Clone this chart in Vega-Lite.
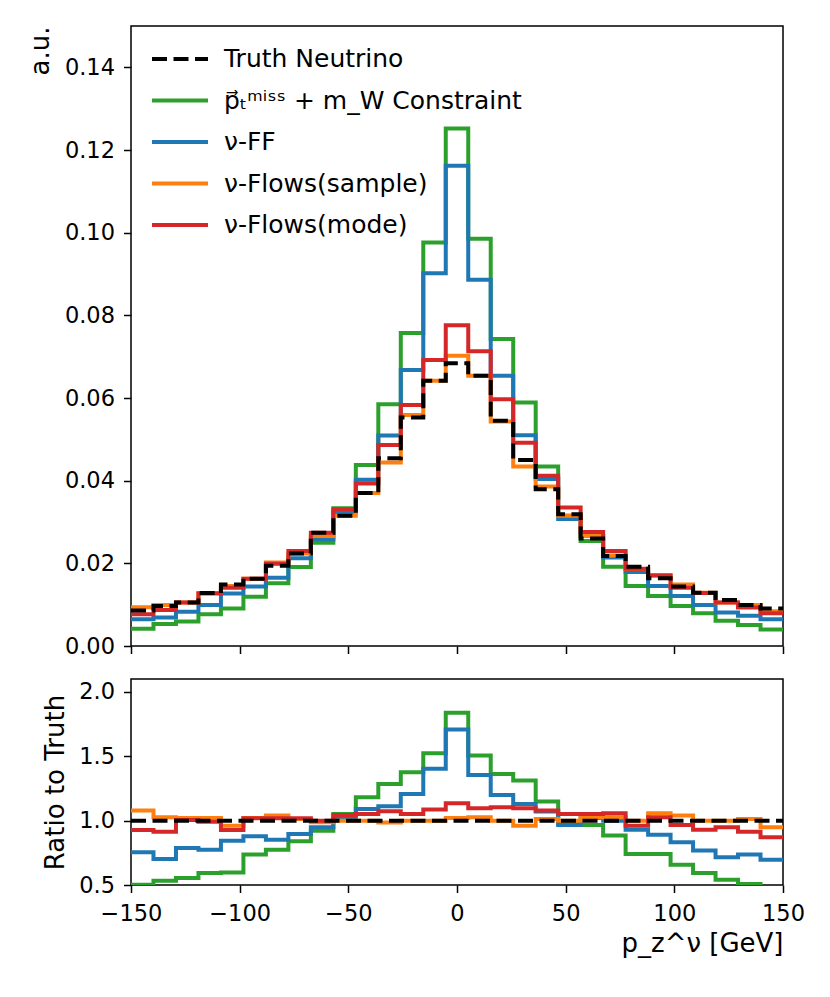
{
  "$schema": "https://vega.github.io/schema/vega-lite/v6.json",
  "padding": {"left": 26, "top": 25, "right": 5, "bottom": 5},
  "background": "white",
  "config": {
    "font": "DejaVu Sans",
    "view": {"stroke": "black", "strokeWidth": 1.5},
    "axis": {
      "grid": false,
      "domain": false,
      "ticks": true,
      "tickColor": "black",
      "tickSize": 7.5,
      "tickWidth": 1.5,
      "labelColor": "black",
      "labelFontSize": 22.5,
      "labelPadding": 9,
      "labelFlush": false,
      "titleColor": "black",
      "titleFontSize": 26,
      "titleFontWeight": "normal"
    }
  },
  "datasets": {
    "hist": [
      {"s": "p⃗ₜᵐⁱˢˢ + m_W Constraint", "lo": -150, "v": 0.0042},
      {"s": "p⃗ₜᵐⁱˢˢ + m_W Constraint", "lo": -139.655, "v": 0.0053},
      {"s": "p⃗ₜᵐⁱˢˢ + m_W Constraint", "lo": -129.31, "v": 0.0059},
      {"s": "p⃗ₜᵐⁱˢˢ + m_W Constraint", "lo": -118.966, "v": 0.0077},
      {"s": "p⃗ₜᵐⁱˢˢ + m_W Constraint", "lo": -108.621, "v": 0.0091},
      {"s": "p⃗ₜᵐⁱˢˢ + m_W Constraint", "lo": -98.276, "v": 0.0119},
      {"s": "p⃗ₜᵐⁱˢˢ + m_W Constraint", "lo": -87.931, "v": 0.0152},
      {"s": "p⃗ₜᵐⁱˢˢ + m_W Constraint", "lo": -77.586, "v": 0.0191},
      {"s": "p⃗ₜᵐⁱˢˢ + m_W Constraint", "lo": -67.241, "v": 0.025},
      {"s": "p⃗ₜᵐⁱˢˢ + m_W Constraint", "lo": -56.897, "v": 0.0333},
      {"s": "p⃗ₜᵐⁱˢˢ + m_W Constraint", "lo": -46.552, "v": 0.0438},
      {"s": "p⃗ₜᵐⁱˢˢ + m_W Constraint", "lo": -36.207, "v": 0.0585},
      {"s": "p⃗ₜᵐⁱˢˢ + m_W Constraint", "lo": -25.862, "v": 0.0757},
      {"s": "p⃗ₜᵐⁱˢˢ + m_W Constraint", "lo": -15.517, "v": 0.0976},
      {"s": "p⃗ₜᵐⁱˢˢ + m_W Constraint", "lo": -5.172, "v": 0.1252},
      {"s": "p⃗ₜᵐⁱˢˢ + m_W Constraint", "lo": 5.172, "v": 0.0985},
      {"s": "p⃗ₜᵐⁱˢˢ + m_W Constraint", "lo": 15.517, "v": 0.0743},
      {"s": "p⃗ₜᵐⁱˢˢ + m_W Constraint", "lo": 25.862, "v": 0.0589},
      {"s": "p⃗ₜᵐⁱˢˢ + m_W Constraint", "lo": 36.207, "v": 0.0434},
      {"s": "p⃗ₜᵐⁱˢˢ + m_W Constraint", "lo": 46.552, "v": 0.0315},
      {"s": "p⃗ₜᵐⁱˢˢ + m_W Constraint", "lo": 56.897, "v": 0.0254},
      {"s": "p⃗ₜᵐⁱˢˢ + m_W Constraint", "lo": 67.241, "v": 0.0192},
      {"s": "p⃗ₜᵐⁱˢˢ + m_W Constraint", "lo": 77.586, "v": 0.0145},
      {"s": "p⃗ₜᵐⁱˢˢ + m_W Constraint", "lo": 87.931, "v": 0.0121},
      {"s": "p⃗ₜᵐⁱˢˢ + m_W Constraint", "lo": 98.276, "v": 0.0097},
      {"s": "p⃗ₜᵐⁱˢˢ + m_W Constraint", "lo": 108.621, "v": 0.0079},
      {"s": "p⃗ₜᵐⁱˢˢ + m_W Constraint", "lo": 118.966, "v": 0.0061},
      {"s": "p⃗ₜᵐⁱˢˢ + m_W Constraint", "lo": 129.31, "v": 0.0051},
      {"s": "p⃗ₜᵐⁱˢˢ + m_W Constraint", "lo": 139.655, "v": 0.004},
      {"s": "p⃗ₜᵐⁱˢˢ + m_W Constraint", "lo": 150, "v": 0.004},

      {"s": "ν-FF", "lo": -150, "v": 0.0065},
      {"s": "ν-FF", "lo": -139.655, "v": 0.0069},
      {"s": "ν-FF", "lo": -129.31, "v": 0.0083},
      {"s": "ν-FF", "lo": -118.966, "v": 0.0099},
      {"s": "ν-FF", "lo": -108.621, "v": 0.0127},
      {"s": "ν-FF", "lo": -98.276, "v": 0.0144},
      {"s": "ν-FF", "lo": -87.931, "v": 0.0165},
      {"s": "ν-FF", "lo": -77.586, "v": 0.0212},
      {"s": "ν-FF", "lo": -67.241, "v": 0.0258},
      {"s": "ν-FF", "lo": -56.897, "v": 0.0323},
      {"s": "ν-FF", "lo": -46.552, "v": 0.0402},
      {"s": "ν-FF", "lo": -36.207, "v": 0.0509},
      {"s": "ν-FF", "lo": -25.862, "v": 0.0668},
      {"s": "ν-FF", "lo": -15.517, "v": 0.0902},
      {"s": "ν-FF", "lo": -5.172, "v": 0.1162},
      {"s": "ν-FF", "lo": 5.172, "v": 0.0886},
      {"s": "ν-FF", "lo": 15.517, "v": 0.0654},
      {"s": "ν-FF", "lo": 25.862, "v": 0.051},
      {"s": "ν-FF", "lo": 36.207, "v": 0.0404},
      {"s": "ν-FF", "lo": 46.552, "v": 0.0307},
      {"s": "ν-FF", "lo": 56.897, "v": 0.0266},
      {"s": "ν-FF", "lo": 67.241, "v": 0.0214},
      {"s": "ν-FF", "lo": 77.586, "v": 0.0179},
      {"s": "ν-FF", "lo": 87.931, "v": 0.0145},
      {"s": "ν-FF", "lo": 98.276, "v": 0.0121},
      {"s": "ν-FF", "lo": 108.621, "v": 0.0099},
      {"s": "ν-FF", "lo": 118.966, "v": 0.0081},
      {"s": "ν-FF", "lo": 129.31, "v": 0.0073},
      {"s": "ν-FF", "lo": 139.655, "v": 0.0065},
      {"s": "ν-FF", "lo": 150, "v": 0.0065},

      {"s": "ν-Flows(sample)", "lo": -150, "v": 0.0094},
      {"s": "ν-Flows(sample)", "lo": -139.655, "v": 0.0099},
      {"s": "ν-Flows(sample)", "lo": -129.31, "v": 0.0105},
      {"s": "ν-Flows(sample)", "lo": -118.966, "v": 0.0128},
      {"s": "ν-Flows(sample)", "lo": -108.621, "v": 0.0145},
      {"s": "ν-Flows(sample)", "lo": -98.276, "v": 0.0163},
      {"s": "ν-Flows(sample)", "lo": -87.931, "v": 0.0202},
      {"s": "ν-Flows(sample)", "lo": -77.586, "v": 0.0224},
      {"s": "ν-Flows(sample)", "lo": -67.241, "v": 0.0266},
      {"s": "ν-Flows(sample)", "lo": -56.897, "v": 0.0315},
      {"s": "ν-Flows(sample)", "lo": -46.552, "v": 0.037},
      {"s": "ν-Flows(sample)", "lo": -36.207, "v": 0.0444},
      {"s": "ν-Flows(sample)", "lo": -25.862, "v": 0.0559},
      {"s": "ν-Flows(sample)", "lo": -15.517, "v": 0.0642},
      {"s": "ν-Flows(sample)", "lo": -5.172, "v": 0.0702},
      {"s": "ν-Flows(sample)", "lo": 5.172, "v": 0.0654},
      {"s": "ν-Flows(sample)", "lo": 15.517, "v": 0.0543},
      {"s": "ν-Flows(sample)", "lo": 25.862, "v": 0.0434},
      {"s": "ν-Flows(sample)", "lo": 36.207, "v": 0.0386},
      {"s": "ν-Flows(sample)", "lo": 46.552, "v": 0.0315},
      {"s": "ν-Flows(sample)", "lo": 56.897, "v": 0.0266},
      {"s": "ν-Flows(sample)", "lo": 67.241, "v": 0.0219},
      {"s": "ν-Flows(sample)", "lo": 77.586, "v": 0.0186},
      {"s": "ν-Flows(sample)", "lo": 87.931, "v": 0.017},
      {"s": "ν-Flows(sample)", "lo": 98.276, "v": 0.0149},
      {"s": "ν-Flows(sample)", "lo": 108.621, "v": 0.0129},
      {"s": "ν-Flows(sample)", "lo": 118.966, "v": 0.0105},
      {"s": "ν-Flows(sample)", "lo": 129.31, "v": 0.0099},
      {"s": "ν-Flows(sample)", "lo": 139.655, "v": 0.0084},
      {"s": "ν-Flows(sample)", "lo": 150, "v": 0.0084},

      {"s": "ν-Flows(mode)", "lo": -150, "v": 0.0077},
      {"s": "ν-Flows(mode)", "lo": -139.655, "v": 0.0087},
      {"s": "ν-Flows(mode)", "lo": -129.31, "v": 0.0105},
      {"s": "ν-Flows(mode)", "lo": -118.966, "v": 0.0127},
      {"s": "ν-Flows(mode)", "lo": -108.621, "v": 0.0141},
      {"s": "ν-Flows(mode)", "lo": -98.276, "v": 0.0163},
      {"s": "ν-Flows(mode)", "lo": -87.931, "v": 0.0199},
      {"s": "ν-Flows(mode)", "lo": -77.586, "v": 0.023},
      {"s": "ν-Flows(mode)", "lo": -67.241, "v": 0.0274},
      {"s": "ν-Flows(mode)", "lo": -56.897, "v": 0.0331},
      {"s": "ν-Flows(mode)", "lo": -46.552, "v": 0.0393},
      {"s": "ν-Flows(mode)", "lo": -36.207, "v": 0.0486},
      {"s": "ν-Flows(mode)", "lo": -25.862, "v": 0.0583},
      {"s": "ν-Flows(mode)", "lo": -15.517, "v": 0.0692},
      {"s": "ν-Flows(mode)", "lo": -5.172, "v": 0.0776},
      {"s": "ν-Flows(mode)", "lo": 5.172, "v": 0.0713},
      {"s": "ν-Flows(mode)", "lo": 15.517, "v": 0.0597},
      {"s": "ν-Flows(mode)", "lo": 25.862, "v": 0.0492},
      {"s": "ν-Flows(mode)", "lo": 36.207, "v": 0.0412},
      {"s": "ν-Flows(mode)", "lo": 46.552, "v": 0.0335},
      {"s": "ν-Flows(mode)", "lo": 56.897, "v": 0.0276},
      {"s": "ν-Flows(mode)", "lo": 67.241, "v": 0.023},
      {"s": "ν-Flows(mode)", "lo": 77.586, "v": 0.0187},
      {"s": "ν-Flows(mode)", "lo": 87.931, "v": 0.0171},
      {"s": "ν-Flows(mode)", "lo": 98.276, "v": 0.0141},
      {"s": "ν-Flows(mode)", "lo": 108.621, "v": 0.0128},
      {"s": "ν-Flows(mode)", "lo": 118.966, "v": 0.0105},
      {"s": "ν-Flows(mode)", "lo": 129.31, "v": 0.0093},
      {"s": "ν-Flows(mode)", "lo": 139.655, "v": 0.0079},
      {"s": "ν-Flows(mode)", "lo": 150, "v": 0.0079},

      {"s": "Truth Neutrino", "lo": -150, "v": 0.0086},
      {"s": "Truth Neutrino", "lo": -139.655, "v": 0.0097},
      {"s": "Truth Neutrino", "lo": -129.31, "v": 0.0105},
      {"s": "Truth Neutrino", "lo": -118.966, "v": 0.0128},
      {"s": "Truth Neutrino", "lo": -108.621, "v": 0.0149},
      {"s": "Truth Neutrino", "lo": -98.276, "v": 0.0163},
      {"s": "Truth Neutrino", "lo": -87.931, "v": 0.0194},
      {"s": "Truth Neutrino", "lo": -77.586, "v": 0.0224},
      {"s": "Truth Neutrino", "lo": -67.241, "v": 0.0274},
      {"s": "Truth Neutrino", "lo": -56.897, "v": 0.0315},
      {"s": "Truth Neutrino", "lo": -46.552, "v": 0.037},
      {"s": "Truth Neutrino", "lo": -36.207, "v": 0.0454},
      {"s": "Truth Neutrino", "lo": -25.862, "v": 0.0553},
      {"s": "Truth Neutrino", "lo": -15.517, "v": 0.0642},
      {"s": "Truth Neutrino", "lo": -5.172, "v": 0.0684},
      {"s": "Truth Neutrino", "lo": 5.172, "v": 0.0654},
      {"s": "Truth Neutrino", "lo": 15.517, "v": 0.0545},
      {"s": "Truth Neutrino", "lo": 25.862, "v": 0.045},
      {"s": "Truth Neutrino", "lo": 36.207, "v": 0.0379},
      {"s": "Truth Neutrino", "lo": 46.552, "v": 0.0319},
      {"s": "Truth Neutrino", "lo": 56.897, "v": 0.026},
      {"s": "Truth Neutrino", "lo": 67.241, "v": 0.0218},
      {"s": "Truth Neutrino", "lo": 77.586, "v": 0.0192},
      {"s": "Truth Neutrino", "lo": 87.931, "v": 0.0164},
      {"s": "Truth Neutrino", "lo": 98.276, "v": 0.0144},
      {"s": "Truth Neutrino", "lo": 108.621, "v": 0.0129},
      {"s": "Truth Neutrino", "lo": 118.966, "v": 0.0111},
      {"s": "Truth Neutrino", "lo": 129.31, "v": 0.0099},
      {"s": "Truth Neutrino", "lo": 139.655, "v": 0.0091},
      {"s": "Truth Neutrino", "lo": 150, "v": 0.0091}
    ],
    "ratio": [
      {"s": "p⃗ₜᵐⁱˢˢ + m_W Constraint", "lo": -150, "r": 0.502},
      {"s": "p⃗ₜᵐⁱˢˢ + m_W Constraint", "lo": -139.655, "r": 0.533},
      {"s": "p⃗ₜᵐⁱˢˢ + m_W Constraint", "lo": -129.31, "r": 0.554},
      {"s": "p⃗ₜᵐⁱˢˢ + m_W Constraint", "lo": -118.966, "r": 0.593},
      {"s": "p⃗ₜᵐⁱˢˢ + m_W Constraint", "lo": -108.621, "r": 0.598},
      {"s": "p⃗ₜᵐⁱˢˢ + m_W Constraint", "lo": -98.276, "r": 0.736},
      {"s": "p⃗ₜᵐⁱˢˢ + m_W Constraint", "lo": -87.931, "r": 0.774},
      {"s": "p⃗ₜᵐⁱˢˢ + m_W Constraint", "lo": -77.586, "r": 0.839},
      {"s": "p⃗ₜᵐⁱˢˢ + m_W Constraint", "lo": -67.241, "r": 0.922},
      {"s": "p⃗ₜᵐⁱˢˢ + m_W Constraint", "lo": -56.897, "r": 1.052},
      {"s": "p⃗ₜᵐⁱˢˢ + m_W Constraint", "lo": -46.552, "r": 1.181},
      {"s": "p⃗ₜᵐⁱˢˢ + m_W Constraint", "lo": -36.207, "r": 1.285},
      {"s": "p⃗ₜᵐⁱˢˢ + m_W Constraint", "lo": -25.862, "r": 1.376},
      {"s": "p⃗ₜᵐⁱˢˢ + m_W Constraint", "lo": -15.517, "r": 1.523},
      {"s": "p⃗ₜᵐⁱˢˢ + m_W Constraint", "lo": -5.172, "r": 1.837},
      {"s": "p⃗ₜᵐⁱˢˢ + m_W Constraint", "lo": 5.172, "r": 1.505},
      {"s": "p⃗ₜᵐⁱˢˢ + m_W Constraint", "lo": 15.517, "r": 1.363},
      {"s": "p⃗ₜᵐⁱˢˢ + m_W Constraint", "lo": 25.862, "r": 1.311},
      {"s": "p⃗ₜᵐⁱˢˢ + m_W Constraint", "lo": 36.207, "r": 1.148},
      {"s": "p⃗ₜᵐⁱˢˢ + m_W Constraint", "lo": 46.552, "r": 0.975},
      {"s": "p⃗ₜᵐⁱˢˢ + m_W Constraint", "lo": 56.897, "r": 0.966},
      {"s": "p⃗ₜᵐⁱˢˢ + m_W Constraint", "lo": 67.241, "r": 0.885},
      {"s": "p⃗ₜᵐⁱˢˢ + m_W Constraint", "lo": 77.586, "r": 0.741},
      {"s": "p⃗ₜᵐⁱˢˢ + m_W Constraint", "lo": 87.931, "r": 0.741},
      {"s": "p⃗ₜᵐⁱˢˢ + m_W Constraint", "lo": 98.276, "r": 0.658},
      {"s": "p⃗ₜᵐⁱˢˢ + m_W Constraint", "lo": 108.621, "r": 0.593},
      {"s": "p⃗ₜᵐⁱˢˢ + m_W Constraint", "lo": 118.966, "r": 0.54},
      {"s": "p⃗ₜᵐⁱˢˢ + m_W Constraint", "lo": 129.31, "r": 0.507},
      {"s": "p⃗ₜᵐⁱˢˢ + m_W Constraint", "lo": 139.655, "r": 0.45},
      {"s": "p⃗ₜᵐⁱˢˢ + m_W Constraint", "lo": 150, "r": 0.45},

      {"s": "ν-FF", "lo": -150, "r": 0.754},
      {"s": "ν-FF", "lo": -139.655, "r": 0.702},
      {"s": "ν-FF", "lo": -129.31, "r": 0.788},
      {"s": "ν-FF", "lo": -118.966, "r": 0.774},
      {"s": "ν-FF", "lo": -108.621, "r": 0.844},
      {"s": "ν-FF", "lo": -98.276, "r": 0.878},
      {"s": "ν-FF", "lo": -87.931, "r": 0.852},
      {"s": "ν-FF", "lo": -77.586, "r": 0.896},
      {"s": "ν-FF", "lo": -67.241, "r": 0.948},
      {"s": "ν-FF", "lo": -56.897, "r": 1.013},
      {"s": "ν-FF", "lo": -46.552, "r": 1.091},
      {"s": "ν-FF", "lo": -36.207, "r": 1.111},
      {"s": "ν-FF", "lo": -25.862, "r": 1.207},
      {"s": "ν-FF", "lo": -15.517, "r": 1.402},
      {"s": "ν-FF", "lo": -5.172, "r": 1.708},
      {"s": "ν-FF", "lo": 5.172, "r": 1.355},
      {"s": "ν-FF", "lo": 15.517, "r": 1.2},
      {"s": "ν-FF", "lo": 25.862, "r": 1.13},
      {"s": "ν-FF", "lo": 36.207, "r": 1.07},
      {"s": "ν-FF", "lo": 46.552, "r": 0.966},
      {"s": "ν-FF", "lo": 56.897, "r": 1.02},
      {"s": "ν-FF", "lo": 67.241, "r": 1.0},
      {"s": "ν-FF", "lo": 77.586, "r": 0.93},
      {"s": "ν-FF", "lo": 87.931, "r": 0.891},
      {"s": "ν-FF", "lo": 98.276, "r": 0.832},
      {"s": "ν-FF", "lo": 108.621, "r": 0.767},
      {"s": "ν-FF", "lo": 118.966, "r": 0.715},
      {"s": "ν-FF", "lo": 129.31, "r": 0.736},
      {"s": "ν-FF", "lo": 139.655, "r": 0.697},
      {"s": "ν-FF", "lo": 150, "r": 0.697},

      {"s": "ν-Flows(sample)", "lo": -150, "r": 1.078},
      {"s": "ν-Flows(sample)", "lo": -139.655, "r": 1.026},
      {"s": "ν-Flows(sample)", "lo": -129.31, "r": 1.02},
      {"s": "ν-Flows(sample)", "lo": -118.966, "r": 1.02},
      {"s": "ν-Flows(sample)", "lo": -108.621, "r": 0.961},
      {"s": "ν-Flows(sample)", "lo": -98.276, "r": 1.02},
      {"s": "ν-Flows(sample)", "lo": -87.931, "r": 1.039},
      {"s": "ν-Flows(sample)", "lo": -77.586, "r": 1.013},
      {"s": "ν-Flows(sample)", "lo": -67.241, "r": 0.987},
      {"s": "ν-Flows(sample)", "lo": -56.897, "r": 1.0},
      {"s": "ν-Flows(sample)", "lo": -46.552, "r": 1.0},
      {"s": "ν-Flows(sample)", "lo": -36.207, "r": 0.985},
      {"s": "ν-Flows(sample)", "lo": -25.862, "r": 1.0},
      {"s": "ν-Flows(sample)", "lo": -15.517, "r": 1.0},
      {"s": "ν-Flows(sample)", "lo": -5.172, "r": 1.02},
      {"s": "ν-Flows(sample)", "lo": 5.172, "r": 1.026},
      {"s": "ν-Flows(sample)", "lo": 15.517, "r": 1.0},
      {"s": "ν-Flows(sample)", "lo": 25.862, "r": 0.961},
      {"s": "ν-Flows(sample)", "lo": 36.207, "r": 1.013},
      {"s": "ν-Flows(sample)", "lo": 46.552, "r": 1.0},
      {"s": "ν-Flows(sample)", "lo": 56.897, "r": 1.026},
      {"s": "ν-Flows(sample)", "lo": 67.241, "r": 1.026},
      {"s": "ν-Flows(sample)", "lo": 77.586, "r": 1.0},
      {"s": "ν-Flows(sample)", "lo": 87.931, "r": 1.057},
      {"s": "ν-Flows(sample)", "lo": 98.276, "r": 1.039},
      {"s": "ν-Flows(sample)", "lo": 108.621, "r": 1.0},
      {"s": "ν-Flows(sample)", "lo": 118.966, "r": 1.0},
      {"s": "ν-Flows(sample)", "lo": 129.31, "r": 1.013},
      {"s": "ν-Flows(sample)", "lo": 139.655, "r": 0.948},
      {"s": "ν-Flows(sample)", "lo": 150, "r": 0.948},

      {"s": "ν-Flows(mode)", "lo": -150, "r": 0.927},
      {"s": "ν-Flows(mode)", "lo": -139.655, "r": 0.914},
      {"s": "ν-Flows(mode)", "lo": -129.31, "r": 1.005},
      {"s": "ν-Flows(mode)", "lo": -118.966, "r": 0.992},
      {"s": "ν-Flows(mode)", "lo": -108.621, "r": 0.927},
      {"s": "ν-Flows(mode)", "lo": -98.276, "r": 1.018},
      {"s": "ν-Flows(mode)", "lo": -87.931, "r": 1.018},
      {"s": "ν-Flows(mode)", "lo": -77.586, "r": 1.018},
      {"s": "ν-Flows(mode)", "lo": -67.241, "r": 1.0},
      {"s": "ν-Flows(mode)", "lo": -56.897, "r": 1.044},
      {"s": "ν-Flows(mode)", "lo": -46.552, "r": 1.052},
      {"s": "ν-Flows(mode)", "lo": -36.207, "r": 1.073},
      {"s": "ν-Flows(mode)", "lo": -25.862, "r": 1.052},
      {"s": "ν-Flows(mode)", "lo": -15.517, "r": 1.086},
      {"s": "ν-Flows(mode)", "lo": -5.172, "r": 1.135},
      {"s": "ν-Flows(mode)", "lo": 5.172, "r": 1.096},
      {"s": "ν-Flows(mode)", "lo": 15.517, "r": 1.104},
      {"s": "ν-Flows(mode)", "lo": 25.862, "r": 1.096},
      {"s": "ν-Flows(mode)", "lo": 36.207, "r": 1.078},
      {"s": "ν-Flows(mode)", "lo": 46.552, "r": 1.052},
      {"s": "ν-Flows(mode)", "lo": 56.897, "r": 1.052},
      {"s": "ν-Flows(mode)", "lo": 67.241, "r": 1.057},
      {"s": "ν-Flows(mode)", "lo": 77.586, "r": 0.961},
      {"s": "ν-Flows(mode)", "lo": 87.931, "r": 1.026},
      {"s": "ν-Flows(mode)", "lo": 98.276, "r": 0.966},
      {"s": "ν-Flows(mode)", "lo": 108.621, "r": 0.93},
      {"s": "ν-Flows(mode)", "lo": 118.966, "r": 0.948},
      {"s": "ν-Flows(mode)", "lo": 129.31, "r": 0.914},
      {"s": "ν-Flows(mode)", "lo": 139.655, "r": 0.87},
      {"s": "ν-Flows(mode)", "lo": 150, "r": 0.87},

      {"s": "Truth Neutrino", "lo": -150, "r": 1.0},
      {"s": "Truth Neutrino", "lo": 150, "r": 1.0}
    ]
  },
  "vconcat": [
    {
      "width": 652,
      "height": 620,
      "data": {"name": "hist"},
      "mark": {"type": "line", "interpolate": "step-after", "strokeWidth": 4, "clip": true},
      "encoding": {
        "x": {
          "field": "lo",
          "type": "quantitative",
          "scale": {"domain": [-150, 150], "nice": false, "zero": false},
          "axis": {"labels": false, "title": null, "values": [-150, -100, -50, 0, 50, 100, 150]}
        },
        "y": {
          "field": "v",
          "type": "quantitative",
          "scale": {"domain": [0, 0.15], "nice": false},
          "axis": {
            "title": "a.u.",
            "titleAnchor": "end",
            "titlePadding": 11,
            "format": ".2f",
            "values": [0, 0.02, 0.04, 0.06, 0.08, 0.1, 0.12, 0.14]
          }
        },
        "color": {
          "field": "s",
          "type": "nominal",
          "scale": {
            "domain": ["Truth Neutrino", "p⃗ₜᵐⁱˢˢ + m_W Constraint", "ν-FF", "ν-Flows(sample)", "ν-Flows(mode)"],
            "range": ["black", "#2ca02c", "#1f77b4", "#ff7f0e", "#d62728"]
          },
          "legend": {
            "title": null,
            "orient": "none",
            "legendX": 33,
            "legendY": 17,
            "padding": 0,
            "rowPadding": 12.5,
            "symbolType": "M-2,0H2",
            "symbolSize": 784,
            "symbolStrokeWidth": 4,
            "symbolFillColor": "transparent",
            "labelFontSize": 25,
            "labelColor": "black",
            "labelOffset": 28,
            "labelLimit": 500
          }
        },
        "strokeDash": {
          "field": "s",
          "type": "nominal",
          "scale": {
            "domain": ["Truth Neutrino", "p⃗ₜᵐⁱˢˢ + m_W Constraint", "ν-FF", "ν-Flows(sample)", "ν-Flows(mode)"],
            "range": [[15, 6.5], [1, 0], [1, 0], [1, 0], [1, 0]]
          },
          "legend": {
            "title": null,
            "orient": "none",
            "legendX": 33,
            "legendY": 17,
            "padding": 0,
            "rowPadding": 12.5,
            "symbolType": "M-2,0H2",
            "symbolSize": 784,
            "symbolStrokeWidth": 4,
            "symbolFillColor": "transparent",
            "labelFontSize": 25,
            "labelColor": "black",
            "labelOffset": 28,
            "labelLimit": 500
          }
        }
      }
    },
    {
      "width": 652,
      "height": 206,
      "data": {"name": "ratio"},
      "mark": {"type": "line", "interpolate": "step-after", "strokeWidth": 4, "clip": true},
      "encoding": {
        "x": {
          "field": "lo",
          "type": "quantitative",
          "scale": {"domain": [-150, 150], "nice": false, "zero": false},
          "axis": {
            "title": "p_z^ν [GeV]",
            "titleAnchor": "end",
            "titlePadding": 5,
            "labelPadding": 10,
            "format": "d",
            "values": [-150, -100, -50, 0, 50, 100, 150]
          }
        },
        "y": {
          "field": "r",
          "type": "quantitative",
          "scale": {"domain": [0.5, 2.1], "nice": false, "zero": false},
          "axis": {
            "title": "Ratio to Truth",
            "titlePadding": 10,
            "format": ".1f",
            "values": [0.5, 1.0, 1.5, 2.0]
          }
        },
        "color": {
          "field": "s",
          "type": "nominal",
          "scale": {
            "domain": ["Truth Neutrino", "p⃗ₜᵐⁱˢˢ + m_W Constraint", "ν-FF", "ν-Flows(sample)", "ν-Flows(mode)"],
            "range": ["black", "#2ca02c", "#1f77b4", "#ff7f0e", "#d62728"]
          },
          "legend": null
        },
        "strokeDash": {
          "field": "s",
          "type": "nominal",
          "scale": {
            "domain": ["Truth Neutrino", "p⃗ₜᵐⁱˢˢ + m_W Constraint", "ν-FF", "ν-Flows(sample)", "ν-Flows(mode)"],
            "range": [[15, 6.5], [1, 0], [1, 0], [1, 0], [1, 0]]
          },
          "legend": null
        }
      }
    }
  ],
  "spacing": 33,
  "bounds": "flush",
  "resolve": {"scale": {"color": "independent", "strokeDash": "independent"}, "legend": {"color": "independent", "strokeDash": "independent"}}
}
